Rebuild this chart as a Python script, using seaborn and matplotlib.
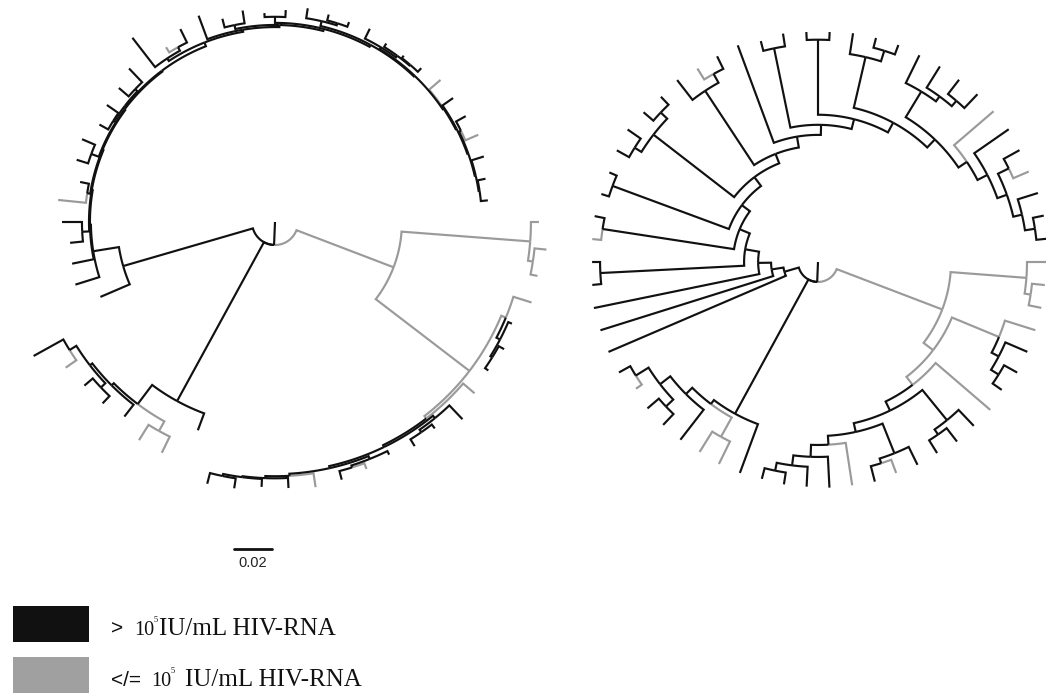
import numpy as np
import pandas as pd
import matplotlib
matplotlib.use("Agg")
import matplotlib.pyplot as plt
import seaborn as sns
from matplotlib.patches import Rectangle

# Two circular trees of the same 62 sequences, branch lengths in substitutions/site.
# Leaves/nodes: "b" = > 10^5 IU/mL, "g" = </= 10^5 IU/mL.
# Each clade is a ladder: (side clade, state of ladder node, length to ladder node).

left_root_len = 0.0121
left_gray_steps = [
    ("(g:0.0042,(g:0.0063,g:0.0037)g:0.0026)g:0.0679", "g", 0.0547),
    ("(g:0.0100,(b:0.0021,(b:0.0032,b:0.0021)b:0.0011)b:0.0021)g:0.0026", "g", 0.0621),
    ("g:0.0079", "g", 0.0016),
    ("(b:0.0100,(b:0.0026,b:0.0042)b:0.0016)b:0.0016", "b", 0.0011),
    ("(b:0.0021,(g:0.0032,b:0.0047)b:0.0011)b:0.0016", "b", 0.0011),
    ("g:0.0074", "b", 0.0011),
    ("b:0.0053", "b", 0.0011),
    ("b:0.0042", "b", 0.0005),
]
left_gray_tip = "(b:0.0053,b:0.0058)b:0.0011"
left_bl_steps = [
    ("b:0.0095", "b", 0.0953),
    ("(g:0.0095,g:0.0095)g:0.0058", "b", 0.0126),
    ("b:0.0079", "b", 0.0016),
]
left_bl_tip = "((b:0.0053,b:0.0058)b:0.0032,(g:0.0068,b:0.0179)b:0.0042)b:0.0016"
left_main_steps = [
    ("b:0.0168", "b", 0.0711),
    ("b:0.0132", "b", 0.0137),
    ("b:0.0116", "b", 0.0005),
    ("(b:0.0068,b:0.0105)b:0.0037", "b", 0.0005),
    ("(g:0.0147,b:0.0047)b:0.0016", "b", 0.0005),
    ("(b:0.0063,b:0.0074)b:0.0042", "b", 0.0005),
    ("((b:0.0053,b:0.0074)b:0.0005,(b:0.0068,b:0.0100)b:0.0016)b:0.0005", "b", 0.0005),
    ("(b:0.0195,(g:0.0032,b:0.0079)b:0.0021)b:0.0016", "b", 0.0021),
    ("b:0.0132", "b", 0.0011),
    ("(b:0.0047,b:0.0068)b:0.0021", "b", 0.0011),
    ("(b:0.0021,b:0.0037)b:0.0032", "b", 0.0011),
    ("(b:0.0053,(b:0.0032,b:0.0026)b:0.0011)b:0.0026", "b", 0.0011),
    ("(b:0.0058,(b:0.0021,(b:0.0016,b:0.0026)b:0.0005)b:0.0011)b:0.0011", "b", 0.0005),
    ("g:0.0079", "b", 0.0005),
    ("b:0.0068", "b", 0.0005),
    ("(b:0.0058,g:0.0074)b:0.0011", "b", 0.0005),
    ("b:0.0068", "b", 0.0005),
]
left_main_tip = "(b:0.0042,b:0.0037)b:0.0005"

right_root_len = 0.0105
right_gray_steps = [
    ("(g:0.0100,(g:0.0068,g:0.0068)g:0.0032)g:0.0400", "g", 0.0595),
    ("(g:0.0168,(b:0.0126,(b:0.0079,b:0.0058)b:0.0047)b:0.0042)g:0.0268", "g", 0.0063),
    ("g:0.0379", "g", 0.0053),
    ("(b:0.0116,(b:0.0089,b:0.0079)b:0.0032)b:0.0205", "b", 0.0053),
    ("(b:0.0105,(g:0.0074,b:0.0084)b:0.0026)b:0.0168", "b", 0.0047),
    ("g:0.0226", "b", 0.0047),
    ("b:0.0163", "b", 0.0063),
    ("b:0.0105", "b", 0.0053),
]
right_gray_tip = "(b:0.0063,b:0.0058)b:0.0042"
right_bl_steps = [
    ("b:0.0274", "b", 0.0805),
    ("(g:0.0132,g:0.0126)g:0.0116", "b", 0.0026),
    ("b:0.0200", "b", 0.0047),
]
right_bl_tip = "((b:0.0079,b:0.0079)b:0.0053,(g:0.0037,b:0.0068)b:0.0079)b:0.0068"
right_main_steps = [
    ("b:0.1016", "b", 0.0079),
    ("b:0.0953", "b", 0.0063),
    ("b:0.0889", "b", 0.0068),
    ("(b:0.0047,b:0.0042)b:0.0758", "b", 0.0074),
    ("(g:0.0047,b:0.0053)b:0.0700", "b", 0.0058),
    ("(b:0.0042,b:0.0042)b:0.0653", "b", 0.0053),
    ("((b:0.0074,b:0.0084)b:0.0042,(b:0.0068,b:0.0058)b:0.0047)b:0.0537", "b", 0.0058),
    ("(b:0.0132,(g:0.0068,b:0.0074)b:0.0053)b:0.0468", "b", 0.0053),
    ("b:0.0547", "b", 0.0058),
    ("(b:0.0053,b:0.0068)b:0.0426", "b", 0.0053),
    ("(b:0.0042,b:0.0042)b:0.0395", "b", 0.0053),
    ("(b:0.0111,(b:0.0053,b:0.0053)b:0.0058)b:0.0274", "b", 0.0058),
    ("(b:0.0163,(b:0.0132,(b:0.0095,b:0.0100)b:0.0037)b:0.0032)b:0.0158", "b", 0.0058),
    ("g:0.0274", "b", 0.0053),
    ("b:0.0221", "b", 0.0058),
    ("(b:0.0095,g:0.0089)b:0.0063", "b", 0.0053),
    ("b:0.0111", "b", 0.0047),
]
right_main_tip = "(b:0.0058,b:0.0063)b:0.0053"

scale_value = 0.02
legend_labels = [">", "</="]
legend_unit = "IU/mL HIV-RNA"

BLACK = "#111111"
GRAY = "#9a9a9a"
PX_PER_UNIT = 38 / scale_value
N_LEAVES = 62


def ladder(steps, tip):
    s = tip
    for side, state, length in reversed(steps):
        s = f"({side},{s}){state}:{length}"
    return s


def parse(s, i=0):
    node = {"kids": []}
    if s[i] == "(":
        i += 1
        while True:
            kid, i = parse(s, i)
            node["kids"].append(kid)
            if s[i] == ",":
                i += 1
                continue
            i += 1
            break
    j = i
    while i < len(s) and s[i] not in ":,)":
        i += 1
    node["state"] = s[j:i]
    node["len"] = 0.0
    if i < len(s) and s[i] == ":":
        i += 1
        j = i
        while i < len(s) and s[i] not in ",)":
            i += 1
        node["len"] = float(s[j:i])
    return node, i


def place(node, base, counter):
    node["r"] = base + node["len"]
    if node["kids"]:
        for k in node["kids"]:
            place(k, node["r"], counter)
        node["a"] = (node["kids"][0]["a"] + node["kids"][-1]["a"]) / 2
    else:
        node["a"] = -counter[0] * 360 / N_LEAVES
        counter[0] += 1


def collect(node, cx, cy, rows, bid):
    for k in node["kids"]:
        n = int(abs(k["a"] - node["a"])) + 2
        ang = np.r_[np.linspace(node["a"], k["a"], n), k["a"]]
        rad = np.r_[np.full(n, node["r"]), k["r"]] * PX_PER_UNIT
        t = np.deg2rad(ang)
        bid[0] += 1
        for x, y in zip(cx + rad * np.cos(t), cy - rad * np.sin(t)):
            rows.append((x, y, k["state"], bid[0]))
        collect(k, cx, cy, rows, bid)


trees = [
    ((275, 222), left_root_len, (left_gray_steps, left_gray_tip),
     (left_bl_steps, left_bl_tip), (left_main_steps, left_main_tip)),
    ((818, 262), right_root_len, (right_gray_steps, right_gray_tip),
     (right_bl_steps, right_bl_tip), (right_main_steps, right_main_tip)),
]

rows = []
bid = [0]
for (cx, cy), root_len, gray, bl, main in trees:
    newick = "(" + ",".join(ladder(*c) for c in (gray, bl, main)) + f")b:{root_len}"
    root, _ = parse(newick)
    counter = [0]
    place(root, 0.0, counter)
    assert counter[0] == N_LEAVES
    t = np.deg2rad(root["a"])
    bid[0] += 1
    for rr in (0.0, root["r"] * PX_PER_UNIT):
        rows.append((cx + rr * np.cos(t), cy - rr * np.sin(t), "b", bid[0]))
    collect(root, cx, cy, rows, bid)

df = pd.DataFrame(rows, columns=["x", "y", "state", "branch"])

sns.set_theme(style="white")
plt.rcParams["font.family"] = ["Liberation Sans", "DejaVu Sans"]

fig = plt.figure(figsize=(10.46, 6.98), dpi=100)
ax = fig.add_axes([0, 0, 1, 1])
sns.lineplot(data=df, x="x", y="y", units="branch", hue="state", hue_order=["g", "b"],
             palette={"g": GRAY, "b": BLACK}, estimator=None, sort=False, lw=1.55,
             legend=False, ax=ax, solid_joinstyle="miter", solid_capstyle="butt")

# scale bar
bar = scale_value * PX_PER_UNIT
ax.plot([253 - bar / 2, 253 + bar / 2], [549, 549], color=BLACK, lw=2)
ax.text(253, 556, f"{scale_value}", ha="center", va="top", fontsize=10.5, color="#222222")

# legend
serif = "Liberation Serif"
for i, (lab, col) in enumerate(zip(legend_labels, [BLACK, "#a0a0a0"])):
    y0 = 606 + i * 51
    ax.add_patch(Rectangle((13, y0), 76, 36, color=col, lw=0))
    base = y0 + 29
    x10 = 134 if i == 0 else 151
    ax.text(111, base, lab, fontsize=15, va="baseline", color=BLACK)
    ax.text(x10, base, "10", fontsize=14.5, family=serif, va="baseline", color=BLACK)
    ax.text(x10 + 20, base - 13, "5", fontsize=6, family=serif, va="baseline", color=BLACK)
    ax.text(x10 + 25 + (0 if i == 0 else 9), base, legend_unit, fontsize=18,
            family=serif, va="baseline", color=BLACK)

ax.set_xlim(0, 1046)
ax.set_ylim(698, 0)
ax.axis("off")
fig.savefig("out.png", dpi=100)
